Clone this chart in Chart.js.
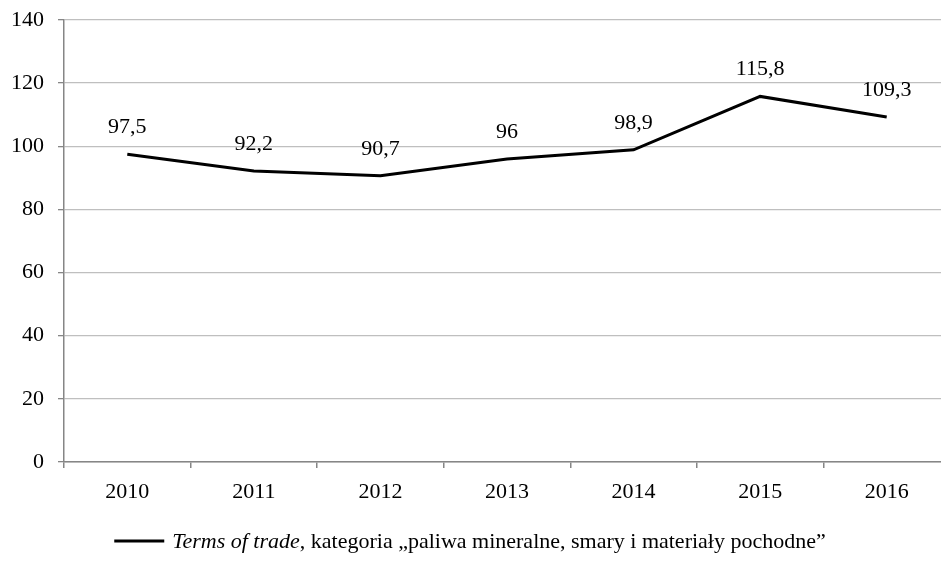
<!DOCTYPE html>
<html>
<head>
<meta charset="utf-8">
<script src="https://cdn.jsdelivr.net/npm/chart.js@4"></script>
<style>
  html, body { margin: 0; padding: 0; background: #fff; overflow: hidden; }
  #wrap { width: 950px; height: 563px; }
</style>
</head>
<body>
<div id="wrap"><canvas id="wykres"></canvas></div>
<script>
const lata = ["2010", "2011", "2012", "2013", "2014", "2015", "2016"];
const wartosci = [97.5, 92.2, 90.7, 96, 98.9, 115.8, 109.3];
const etykietaItalic = "Terms of trade";
const etykietaReszta = ", kategoria \u201Epaliwa mineralne, smary i materiały pochodne\u201D";

const czcionka = "'Liberation Serif', 'Times New Roman', serif";
const rozmiar = 22;

function liczba(v) {
  return String(v).replace(".", ",");
}

const etykietyDanych = {
  id: "etykietyDanych",
  afterDatasetsDraw(chart) {
    const ctx = chart.ctx;
    const meta = chart.getDatasetMeta(0);
    ctx.save();
    ctx.font = rozmiar + "px " + czcionka;
    ctx.fillStyle = "#000";
    ctx.textAlign = "center";
    ctx.textBaseline = "alphabetic";
    meta.data.forEach((p, i) => {
      ctx.fillText(liczba(wartosci[i]), p.x, p.y - 21);
    });
    ctx.restore();
  }
};

const legenda = {
  id: "legenda",
  afterDraw(chart) {
    const ctx = chart.ctx;
    ctx.save();
    const y = 548;
    ctx.font = "italic " + rozmiar + "px " + czcionka;
    const w1 = ctx.measureText(etykietaItalic).width;
    ctx.font = rozmiar + "px " + czcionka;
    const w2 = ctx.measureText(etykietaReszta).width;
    const total = 50 + 8 + w1 + w2;
    let x = 470 - total / 2;
    ctx.strokeStyle = "#000";
    ctx.lineWidth = 3;
    ctx.beginPath();
    ctx.moveTo(x, y - 7);
    ctx.lineTo(x + 50, y - 7);
    ctx.stroke();
    x += 58;
    ctx.fillStyle = "#000";
    ctx.textBaseline = "alphabetic";
    ctx.font = "italic " + rozmiar + "px " + czcionka;
    ctx.fillText(etykietaItalic, x, y);
    x += w1;
    ctx.font = rozmiar + "px " + czcionka;
    ctx.fillText(etykietaReszta, x, y);
    ctx.restore();
  }
};

new Chart(document.getElementById("wykres"), {
  type: "line",
  data: {
    labels: lata,
    datasets: [{
      label: etykietaItalic + etykietaReszta,
      data: wartosci,
      borderColor: "#000",
      borderWidth: 3,
      pointRadius: 0,
      tension: 0,
      fill: false
    }]
  },
  options: {
    responsive: true,
    maintainAspectRatio: false,
    animation: false,
    layout: { autoPadding: false, padding: { top: 20, left: 0, right: 0, bottom: 0 } },
    plugins: {
      legend: { display: false },
      tooltip: { enabled: false }
    },
    scales: {
      x: {
        offset: true,
        afterFit: s => { s.height = 101; s.paddingLeft = 0; s.paddingRight = 0; },
        grid: {
          offset: true,
          drawOnChartArea: false,
          drawTicks: true,
          tickLength: 6,
          tickColor: "#868686",
          lineWidth: 1.5
        },
        border: { color: "#868686", width: 1.5 },
        ticks: {
          color: "#000",
          font: { family: czcionka, size: rozmiar },
          padding: 11,
          maxRotation: 0
        }
      },
      y: {
        min: 0,
        max: 140,
        afterFit: s => { s.width = 64; s.paddingTop = 0; s.paddingBottom = 0; },
        grid: {
          color: "#bfbfbf",
          lineWidth: 1.3,
          drawTicks: true,
          tickLength: 6,
          tickColor: "#868686"
        },
        border: { color: "#868686", width: 1.5 },
        ticks: {
          stepSize: 20,
          color: "#000",
          font: { family: czcionka, size: rozmiar },
          padding: 14
        }
      }
    }
  },
  plugins: [etykietyDanych, legenda]
});
</script>
</body>
</html>
